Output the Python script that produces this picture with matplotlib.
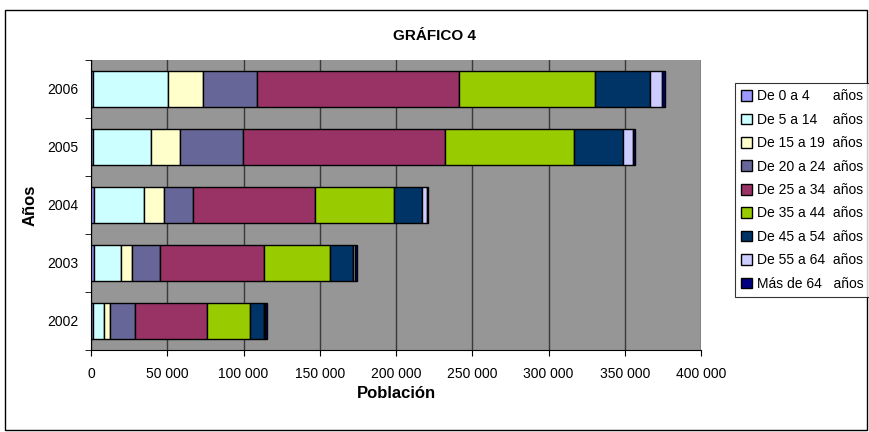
import numpy as np
import matplotlib.pyplot as plt
from matplotlib.patches import Rectangle

plt.rcParams["font.family"] = ["Liberation Sans", "DejaVu Sans"]

years = ["2002", "2003", "2004", "2005", "2006"]
groups = [
    "De 0 a 4      años",
    "De 5 a 14    años",
    "De 15 a 19  años",
    "De 20 a 24  años",
    "De 25 a 34  años",
    "De 35 a 44  años",
    "De 45 a 54  años",
    "De 55 a 64  años",
    "Más de 64   años",
]
colors = ["#9999FF", "#CCFFFF", "#FFFFCC", "#666699", "#993366",
          "#99CC00", "#003366", "#CCCCFF", "#000080"]

# population per age group, one list per group (2002 .. 2006)
g0_4 = [1500, 2200, 2200, 1500, 1000]
g5_14 = [7000, 17300, 32300, 37600, 49300]
g15_19 = [4000, 7200, 13400, 19500, 23300]
g20_24 = [16200, 18800, 19000, 41100, 35400]
g25_34 = [47200, 68200, 80000, 132300, 132100]
g35_44 = [28200, 42900, 52000, 84400, 89400]
g45_54 = [9400, 15100, 17900, 32300, 36300]
g55_64 = [800, 1500, 3300, 6600, 7700]
g65 = [900, 1100, 1100, 1700, 2100]
series = [g0_4, g5_14, g15_19, g20_24, g25_34, g35_44, g45_54, g55_64, g65]

fig = plt.figure(figsize=(8.7, 4.32), dpi=100)
ax = fig.add_axes([91 / 870, 1 - 350 / 432, 610 / 870, 290 / 432])
ax.set_facecolor("#969696")

ypos = np.arange(len(years))
left = np.zeros(len(years))
for vals, col, lab in zip(series, colors, groups):
    vals = np.array(vals, dtype=float)
    ax.barh(ypos, vals, left=left, height=0.62, color=col,
            edgecolor="black", linewidth=1, label=lab, zorder=3)
    left += vals

ax.set_xlim(0, 400000)
ax.set_ylim(-0.5, 4.5)
xt = np.arange(0, 400001, 50000)
ax.set_xticks(xt)
ax.set_xticklabels([f"{v:,}".replace(",", " ") for v in xt], fontsize=10)
ax.set_yticks(ypos)
ax.set_yticklabels(years, fontsize=10)
ax.set_yticks(np.arange(-0.5, 5, 1), minor=True)
ax.tick_params(axis="y", which="major", length=0, pad=9)
ax.tick_params(axis="y", which="minor", length=4, direction="out")
ax.tick_params(axis="x", length=4, direction="out", pad=8)
ax.grid(axis="x", color="#3a3a3a", linewidth=1, zorder=1)
ax.set_axisbelow(True)
for s in ["top", "right"]:
    ax.spines[s].set_visible(False)
ax.spines["left"].set_color("black")
ax.spines["bottom"].set_color("black")

ax.set_xlabel("Población", fontsize=12, fontweight="bold", labelpad=4)
ax.set_ylabel("Años", fontsize=12, fontweight="bold", labelpad=7)
fig.text(435 / 870, 1 - 36 / 432, "GRÁFICO 4", ha="center", va="center",
         fontsize=11, fontweight="bold")

leg = fig.legend(loc="upper left", bbox_to_anchor=(735 / 870, 1 - 83 / 432),
                 fontsize=10, frameon=True, fancybox=False, edgecolor="black",
                 handlelength=0.8, handleheight=0.8, handletextpad=0.3,
                 labelspacing=0.68, borderpad=0.45, borderaxespad=0)
leg.get_frame().set_linewidth(0.8)

fig.patches.append(Rectangle((5 / 870, 2 / 432), 862 / 870, 420 / 432,
                             transform=fig.transFigure, fill=False,
                             edgecolor="black", linewidth=1))

fig.savefig("out.png", dpi=100)
